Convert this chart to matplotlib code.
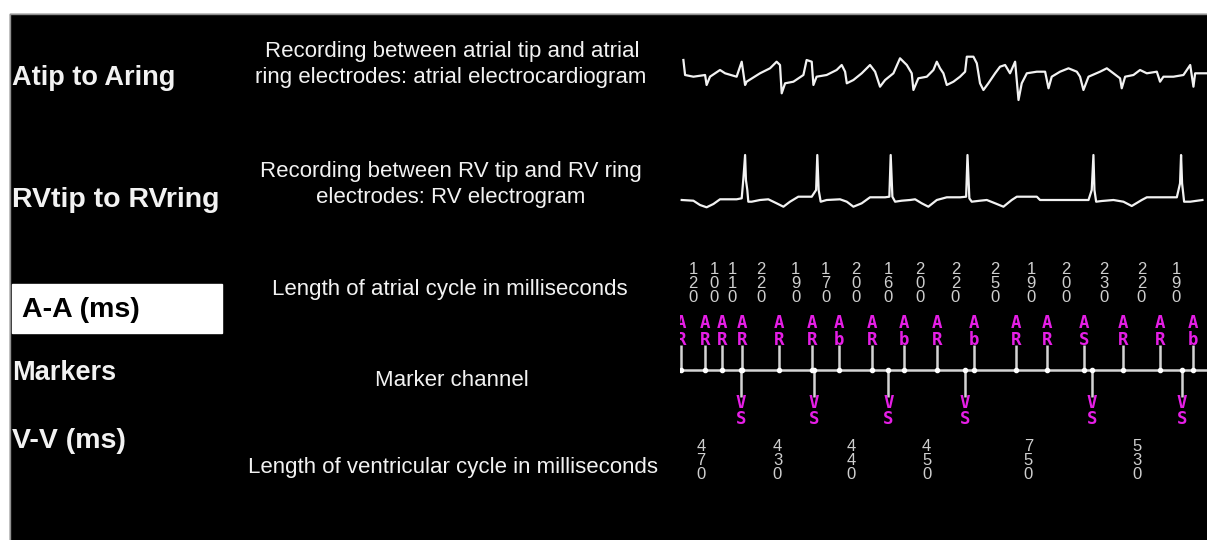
import numpy as np
import matplotlib.pyplot as plt
from matplotlib.patches import Rectangle

plt.rcParams["font.family"] = ["Liberation Sans", "DejaVu Sans"]

# ---- data read from the strip (time in ms, amplitude in mV-ish units) ----
atrial_t = [20, 30, 79, 148, 157, 177, 236, 266, 334, 364, 384, 393, 472, 531, 570,
            590, 600, 620, 669, 728, 747, 777, 787, 806, 865, 924, 954, 974, 984, 1023,
            1072, 1121, 1151, 1180, 1210, 1259, 1298, 1338, 1367, 1377, 1406, 1456, 1495,
            1515, 1534, 1554, 1574, 1613, 1652, 1682, 1692, 1731, 1751, 1770, 1790, 1819,
            1859, 1888, 1918, 1947, 1977, 1997, 2016, 2046, 2105, 2154, 2174, 2193, 2242,
            2292, 2341, 2360, 2380, 2410, 2478, 2518, 2557, 2596, 2606, 2626, 2675, 2714,
            2754, 2813, 2832, 2852, 2911, 2970, 3010, 3029, 3039, 3108]
atrial_mv = [1.5, 0, -0.17, 0, -1.0, -0.17, 0.5, 0.17, -0.17, 1.33, -1.0, -0.67, 0.17,
             0.67, 1.33, 1.0, -1.83, -0.83, -0.67, 0, 1.5, 1.33, -1.0, -0.17, 0, 0.5, 1.0,
             0.33, -0.83, -0.5, 0.17, 1.0, 0.33, -1.17, -0.5, 0.17, 1.67, 1.0, 0.17, -1.5,
             -0.33, -0.17, 0.5, 1.33, 0.67, 0.17, -1.0, -0.67, -0.17, 0.33, 1.83, 1.83,
             1.17, -0.83, -1.5, -0.83, 0.17, 0.83, 1.0, 0.17, 1.33, -2.5, -0.83, 0.17, 0.33,
             0.33, -1.33, -0.17, 0.33, 0.67, 0.33, -0.17, -1.5, -0.17, 0.33, 0.67, 0.17,
             -0.33, -1.33, -0.17, 0, 0.5, 0.17, 0.33, -0.67, -0.17, -0.17, 0, 1.0, -1.17,
             0.17, 0.17]

rv_t = [10, 79, 118, 157, 197, 236, 334, 364, 374, 384, 389, 397, 403, 423, 472, 521,
        570, 610, 649, 698, 777, 803, 810, 818, 830, 865, 944, 984, 1023, 1072, 1121,
        1210, 1235, 1243, 1253, 1269, 1308, 1357, 1387, 1426, 1465, 1515, 1574, 1652,
        1688, 1696, 1707, 1721, 1770, 1810, 1859, 1908, 1957, 1987, 2105, 2124, 2410,
        2429, 2439, 2445, 2455, 2488, 2557, 2616, 2665, 2724, 2754, 2931, 2950, 2956,
        2962, 2974, 3010, 3082]
rv_mv = [0, -0.07, -0.5, -0.73, -0.4, 0.07, 0.07, 0.17, 2.17, 4.5, 2.0, 1.0, -0.17,
         -0.17, 0, 0.07, -0.33, -0.67, -0.17, 0.33, 0.33, 1.0, 4.5, 1.0, -0.17, 0, 0.07,
         -0.17, -0.67, -0.33, 0.27, 0.27, 0.33, 4.5, 0.33, -0.17, -0.07, 0, 0.07, -0.33,
         -0.67, 0, 0.27, 0.27, 0.33, 4.5, 0.17, -0.17, -0.07, 0, -0.33, -0.67, 0, 0.33,
         0.33, 0, 0, 1.0, 4.5, 1.0, -0.17, -0.1, 0, -0.17, -0.6, 0, 0.27, 0.27, 1.67, 4.5,
         1.67, -0.17, -0.17, 0]

# atrial marker events
a_times = [5, 150, 250, 365, 585, 780, 940, 1135, 1320, 1515, 1735, 1980, 2165, 2385,
           2615, 2830, 3025]
a_codes = ["AR", "AR", "AR", "AR", "AR", "AR", "Ab", "AR", "Ab", "AR", "Ab", "AR", "AR",
           "AS", "AR", "AR", "Ab"]
aa_ms = [120, 100, 110, 220, 190, 170, 200, 160, 200, 220, 250, 190, 200, 230, 220, 190]

# ventricular marker events (first one is before the window)
v_times = [-110, 360, 790, 1230, 1680, 2430, 2960]
v_codes = ["VS", "VS", "VS", "VS", "VS", "VS", "VS"]
vv_ms = [470, 430, 440, 450, 750, 530]

row_labels = ["Atip to Aring", "RVtip to RVring", "A-A (ms)", "Markers", "V-V (ms)"]
notes = ["Recording between atrial tip and atrial",
         "ring electrodes: atrial electrocardiogram",
         "Recording between RV tip and RV ring",
         "electrodes: RV electrogram",
         "Length of atrial cycle in milliseconds",
         "Marker channel",
         "Length of ventricular cycle in milliseconds"]

W, H = 1207, 540
T_END = 3109
fg = "#f2f2f2"
mag = "#e61ee6"
grey = "#d4d4d4"

fig = plt.figure(figsize=(W / 100, H / 100), dpi=100, facecolor="white")

# background / label panel in pixel coords
bg = fig.add_axes([0, 0, 1, 1])
bg.set_xlim(0, W)
bg.set_ylim(H, 0)
bg.axis("off")
bg.add_patch(Rectangle((10, 14), W - 10, H - 14, color="black", zorder=0))
bg.plot([10, W], [14, 14], color="#909090", lw=1)
bg.plot([10, 10], [14, H], color="#909090", lw=1)
bg.add_patch(Rectangle((12, 284), 210, 49, color="white", zorder=1))

row_y = [78, 200, 310, 373, 441]
row_size = [19.5, 20.5, 20.5, 19.5, 20.5]
for lab, y, fs in zip(row_labels, row_y, row_size):
    x = 22 if lab.startswith("A-A") else 12
    col = "black" if lab.startswith("A-A") else fg
    bg.text(x, y, lab, color=col, fontsize=fs, fontweight="bold",
            ha="left", va="center", zorder=2)

note_pos = [(452, 52), (451, 78), (451, 171), (451, 197), (450, 290), (452, 380),
            (453, 468)]
for txt, (x, y) in zip(notes, note_pos):
    bg.text(x, y, txt, color=fg, fontsize=16, ha="center", va="center")


def lane(top, bottom, ylim):
    ax = fig.add_axes([680 / W, (H - bottom) / H, (W - 680) / W, (bottom - top) / H])
    ax.set_xlim(0, T_END)
    ax.set_ylim(*ylim)
    ax.axis("off")
    ax.patch.set_visible(False)
    return ax


# atrial electrogram
ax_a = lane(45, 105, (-3, 3))
ax_a.plot(atrial_t, atrial_mv, color=fg, lw=1.6, solid_joinstyle="round")

# RV electrogram
ax_v = lane(145, 225, (-2.5, 5.5))
ax_v.plot(rv_t, rv_mv, color=fg, lw=1.6, solid_joinstyle="round")

# markers + interval annotations (y in pixel rows)
ax_m = lane(250, 500, (500, 250))
base = 370
ax_m.hlines(base, 0, T_END, color=grey, lw=1.8)
ax_m.vlines(a_times, 345, base, color=grey, lw=1.8)
ax_m.vlines(v_times, base, 397, color=grey, lw=1.8)
ax_m.plot(a_times, [base] * len(a_times), "o", ms=3, color="white")
ax_m.plot(v_times, [base] * len(v_times), "o", ms=3, color="white")

mono = dict(color=mag, fontsize=12.5, fontweight="bold", family="DejaVu Sans Mono",
            ha="center", va="center", clip_on=True, linespacing=0.86)
for t, code in zip(a_times, a_codes):
    ax_m.text(t, 331.5, "\n".join(code), **mono)
for t, code in zip(v_times, v_codes):
    ax_m.text(t, 411, "\n".join(code), **mono)

num = dict(color="#cfcfcf", fontsize=12, ha="center", va="center", clip_on=True,
           linespacing=0.93, family=["Liberation Sans Narrow", "Liberation Sans"])
a_mid = (np.array(a_times[:-1]) + np.array(a_times[1:])) / 2
for t, val in zip(a_mid, aa_ms):
    ax_m.text(t, 283.5, "\n".join(str(val)), **num)
v_mid = (np.array(v_times[:-1]) + np.array(v_times[1:])) / 2
for t, val in zip(v_mid, vv_ms):
    ax_m.text(t, 460.5, "\n".join(str(val)), **num)

plt.savefig("out.png", dpi=100, facecolor="white")
